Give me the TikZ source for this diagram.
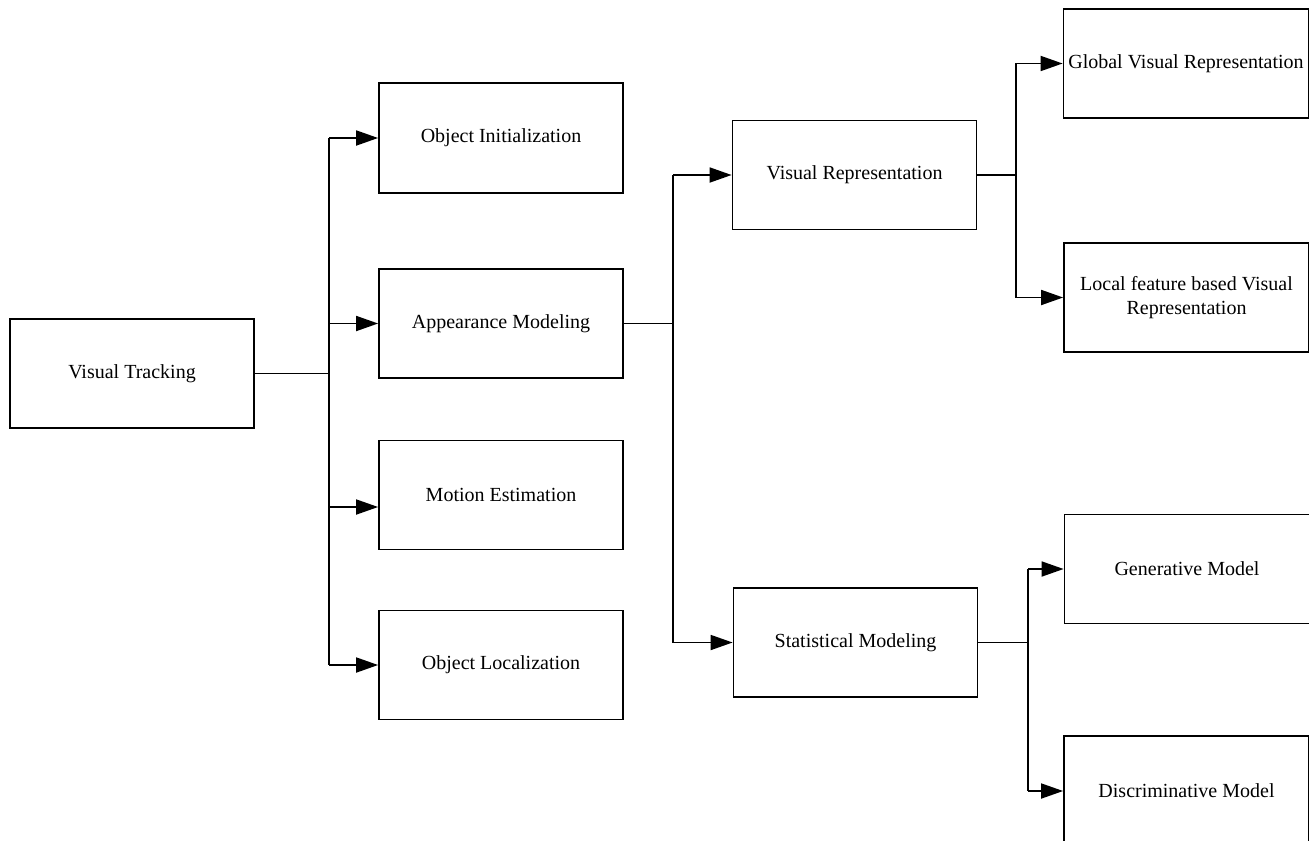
\documentclass[tikz,border=0pt]{standalone}
\usepackage{fontspec}
\setmainfont{Liberation Serif}
\usetikzlibrary{arrows.meta,calc}
\begin{document}
\begin{tikzpicture}[x=0.5pt,y=-0.5pt,
  box/.style={draw,line width=0.9pt,inner sep=0pt,minimum width=122pt,minimum height=54.5pt,align=center,font=\fontsize{10pt}{12pt}\selectfont},
  link/.style={line width=0.9pt},
  arr/.style={line width=0.9pt,-{Triangle[length=11pt,width=7.5pt]}}]
\useasboundingbox (0,0) rectangle (1309,840);
\clip (0,0) rectangle (1309,840);
% boxes
\node[box] (VT) at (132,373.5) {Visual Tracking};
\node[box,minimum height=55pt] (OI) at (501,138) {Object Initialization};
\node[box] (AM) at (501,323.5) {Appearance Modeling};
\node[box] (ME) at (501,495) {Motion Estimation};
\node[box] (OL) at (501,665) {Object Localization};
\node[box] (VR) at (854.5,175) {Visual Representation};
\node[box] (SM) at (855.5,642.5) {Statistical Modeling};
\node[box,minimum width=122.5pt] (GVR) at (1186,63.5) {Global Visual Representation};
\node[box,minimum width=122.5pt] (LVR) at (1186.5,297.5) {Local feature based Visual\\Representation};
\node[box,minimum width=122.5pt] (GM) at (1187,569) {Generative Model};
\node[box,minimum width=122.5pt,minimum height=55pt] (DM) at (1186.5,791) {Discriminative Model};
% junctions
\coordinate (j1) at (329,373.5);
\coordinate (j2) at (673,323.5);
\coordinate (j3) at (1016,175);
\coordinate (j4) at (1028,642.5);
% level 1
\draw[link] (VT.east) -- (j1);
\draw[link] (j1 |- OI.west) -- (j1 |- OL.west);
\draw[arr] (j1 |- OI.west) -- (OI.west);
\draw[arr] (j1 |- AM.west) -- (AM.west);
\draw[arr] ($(j1 |- ME.west)+(0,12)$) -- ($(ME.west)+(0,12)$);
\draw[arr] (j1 |- OL.west) -- (OL.west);
% level 2
\draw[link] (AM.east) -- (j2);
\draw[link] (j2 |- VR.west) -- (j2 |- SM.west);
\draw[arr] (j2 |- VR.west) -- (VR.west);
\draw[arr] (j2 |- SM.west) -- (SM.west);
% level 3
\draw[link] (VR.east) -- (j3);
\draw[link] (j3 |- GVR.west) -- (j3 |- LVR.west);
\draw[arr] (j3 |- GVR.west) -- (GVR.west);
\draw[arr] (j3 |- LVR.west) -- (LVR.west);
\draw[link] (SM.east) -- (j4);
\draw[link] (j4 |- GM.west) -- (j4 |- DM.west);
\draw[arr] (j4 |- GM.west) -- (GM.west);
\draw[arr] (j4 |- DM.west) -- (DM.west);
\end{tikzpicture}
\end{document}
